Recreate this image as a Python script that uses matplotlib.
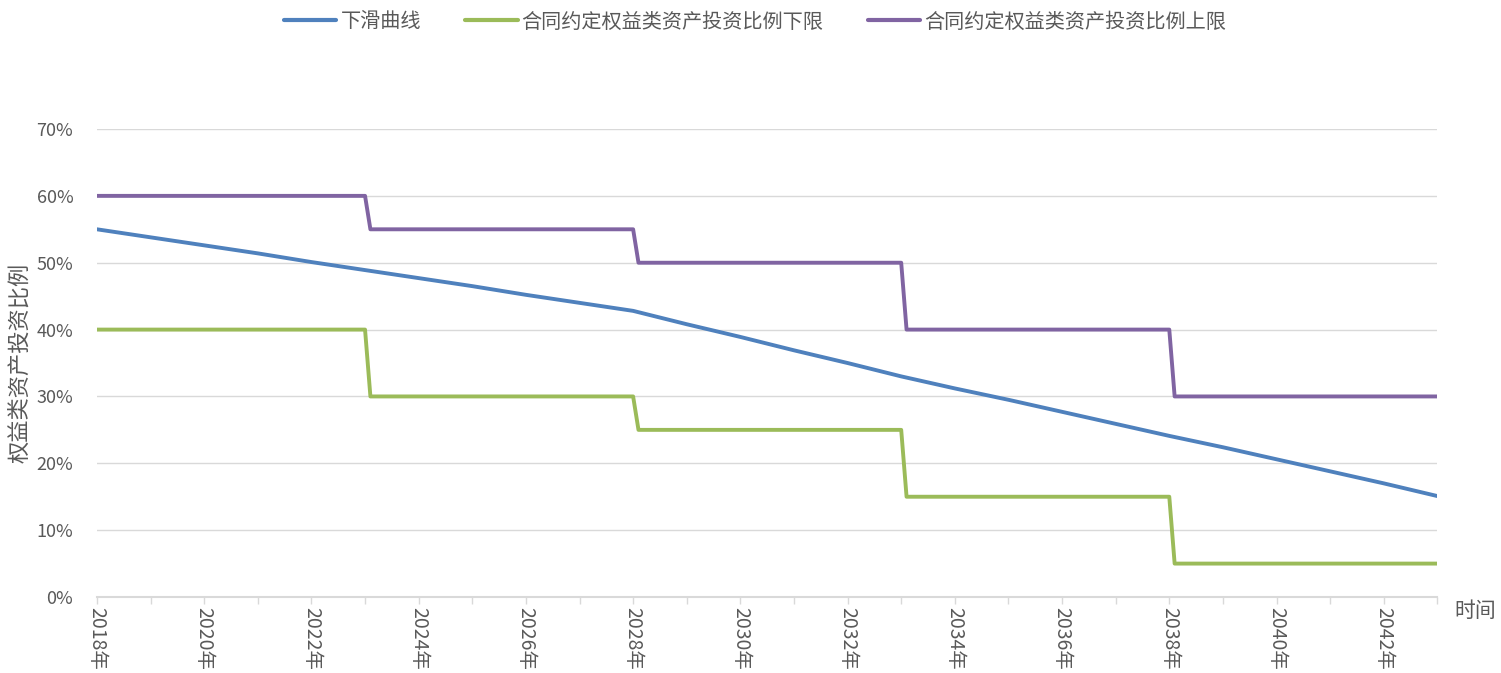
import matplotlib
matplotlib.use("Agg")
import matplotlib.pyplot as plt
from matplotlib.ticker import MultipleLocator, FuncFormatter

plt.rcParams['font.family'] = ['Noto Sans CJK SC', 'DejaVu Sans']

# glide path
years = list(range(2018, 2044))
glide = [55.0, 53.8, 52.6, 51.4, 50.1, 48.9, 47.7, 46.5, 45.2, 44.0,
         42.8, 40.8, 38.9, 36.9, 35.0, 33.0, 31.2, 29.5, 27.7, 25.9,
         24.1, 22.4, 20.6, 18.8, 17.0, 15.1]

# contractual band, stepping down every five years
step_x = [2018, 2023, 2023.1, 2028, 2028.1, 2033, 2033.1, 2038, 2038.1, 2043]
lower = [40, 40, 30, 30, 25, 25, 15, 15, 5, 5]
upper = [60, 60, 55, 55, 50, 50, 40, 40, 30, 30]

labels = ['下滑曲线', '合同约定权益类资产投资比例下限', '合同约定权益类资产投资比例上限']
colors = ['#4F81BD', '#9BBB59', '#8064A2']
gray = '#595959'

fig = plt.figure(figsize=(15.01, 6.73), dpi=100)
ax = fig.add_axes([0.0646, 0.1129, 0.893, 0.6954])

ax.plot(years, glide, color=colors[0], linewidth=2.8, label=labels[0], solid_capstyle='round')
ax.plot(step_x, lower, color=colors[1], linewidth=2.8, label=labels[1], solid_capstyle='round')
ax.plot(step_x, upper, color=colors[2], linewidth=2.8, label=labels[2], solid_capstyle='round')

ax.set_xlim(2018, 2043)
ax.set_ylim(0, 70)
ax.yaxis.set_major_locator(MultipleLocator(10))
ax.yaxis.set_major_formatter(FuncFormatter(lambda v, p: f'{v:.0f}%'))
ax.xaxis.set_major_locator(MultipleLocator(2))
ax.xaxis.set_minor_locator(MultipleLocator(1))
ax.xaxis.set_major_formatter(FuncFormatter(lambda v, p: f'{v:.0f}年'))

ax.grid(axis='y', color='#D9D9D9', linewidth=1.0)
ax.set_axisbelow(True)
for s in ['top', 'right', 'left']:
    ax.spines[s].set_visible(False)
ax.spines['bottom'].set_color('#D9D9D9')
ax.spines['bottom'].set_linewidth(1.5)

ax.tick_params(axis='y', length=0, pad=17, labelsize=13, labelcolor=gray)
ax.tick_params(axis='x', which='both', direction='out', color='#D9D9D9',
               length=5, width=1, labelsize=14, labelcolor=gray, pad=2)
for t in ax.get_xticklabels():
    t.set_rotation(-90)
    t.set_va('top')
    t.set_ha('center')

ax.set_ylabel('权益类资产投资比例', fontsize=16, color=gray, va='center')
ax.yaxis.set_label_coords(-0.0575, 0.5)
ax.text(1.013, -0.03, '时间', transform=ax.transAxes, fontsize=15, color=gray,
        ha='left', va='center')

leg = fig.legend(loc='upper center', bbox_to_anchor=(0.503, 1.01), ncol=3,
                 frameon=False, fontsize=14.5, handlelength=2.6, handletextpad=0.2,
                 columnspacing=2.2)
for t in leg.get_texts():
    t.set_color(gray)
for h in leg.get_lines():
    h.set_linewidth(3)

fig.savefig('out.png', dpi=100)
